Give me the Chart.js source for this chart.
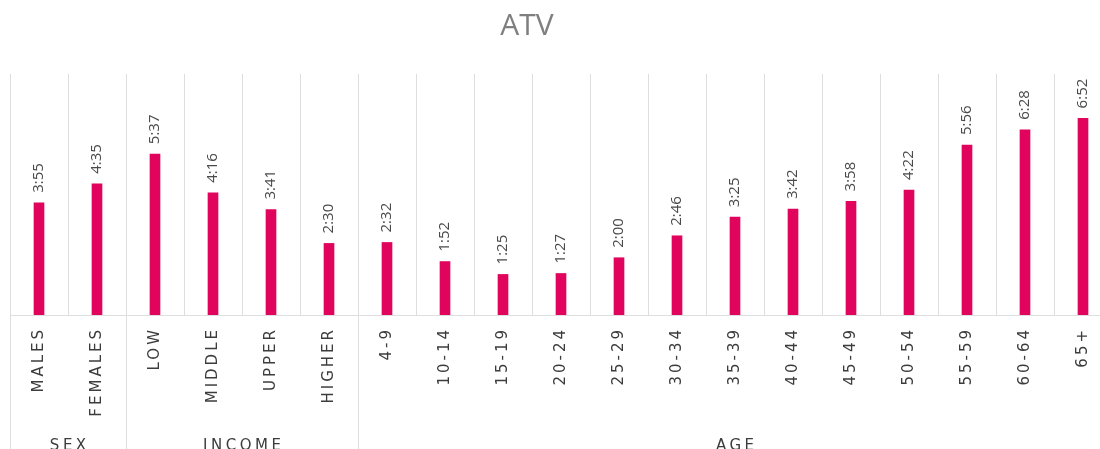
<!DOCTYPE html>
<html>
<head>
<meta charset="utf-8">
<title>ATV</title>
<script src="https://cdn.jsdelivr.net/npm/chart.js@4"></script>
<style>
  html, body { margin: 0; padding: 0; background: #fff; overflow: hidden; }
  #wrap { position: relative; width: 1120px; height: 449px; }
  #title {
    position: absolute; top: 9px; left: 527px; transform: translateX(-50%);
    font: 30px/30px "Open Sans", sans-serif; color: #7f7f7f;
  }
</style>
</head>
<body>
<div id="wrap">
  <div id="title">ATV</div>
  <canvas id="chart"></canvas>
</div>
<script>
// average time viewed per group, in seconds
const categories = ['MALES', 'FEMALES', 'LOW', 'MIDDLE', 'UPPER', 'HIGHER',
  '4-9', '10-14', '15-19', '20-24', '25-29', '30-34', '35-39', '40-44',
  '45-49', '50-54', '55-59', '60-64', '65+'];
const atvSeconds = [235, 275, 337, 256, 221, 150,
  152, 112, 85, 87, 120, 166, 205, 222, 238, 262, 356, 388, 412];
// groups under the axis and how many categories each one covers
const groupNames = ['SEX', 'INCOME', 'AGE'];
const groupSizes = [2, 4, 13];

const gridColor = '#dedede';
const textColor = '#3c3c3c';

// seconds -> m:ss
function fmt(sec) {
  const m = Math.floor(sec / 60);
  const s = sec % 60;
  return m + ':' + (s < 10 ? '0' + s : s);
}

// tick labels are drawn with wide letter spacing, value labels without
const spacing = {
  id: 'spacing',
  beforeDraw(chart) {
    chart.ctx.letterSpacing = '3px';
  }
};

// value printed vertically above each bar
const valueLabels = {
  id: 'valueLabels',
  afterDatasetsDraw(chart) {
    const ctx = chart.ctx;
    const meta = chart.getDatasetMeta(0);
    ctx.save();
    ctx.letterSpacing = '0px';
    ctx.font = '15px "Open Sans", sans-serif';
    ctx.fillStyle = '#4a4a4a';
    ctx.textAlign = 'left';
    ctx.textBaseline = 'middle';
    meta.data.forEach((bar, i) => {
      ctx.save();
      ctx.translate(bar.x, bar.y - 10);
      ctx.rotate(-Math.PI / 2);
      ctx.fillText(fmt(atvSeconds[i]), 0, 0);
      ctx.restore();
    });
    ctx.restore();
  }
};

// group separators running down to the bottom, and group names
const groups = {
  id: 'groups',
  afterDraw(chart) {
    const ctx = chart.ctx;
    const x = chart.scales.x;
    const step = (x.right - x.left) / categories.length;
    ctx.save();
    ctx.strokeStyle = gridColor;
    ctx.lineWidth = 1;
    ctx.font = '15px "DejaVu Sans", sans-serif';
    ctx.letterSpacing = '3.5px';
    ctx.fillStyle = textColor;
    ctx.textAlign = 'center';
    ctx.textBaseline = 'alphabetic';
    let start = 0;
    groupNames.forEach((name, g) => {
      const left = x.getPixelForValue(start) - step / 2;
      const right = x.getPixelForValue(start + groupSizes[g] - 1) + step / 2;
      ctx.beginPath();
      ctx.moveTo(Math.round(left) + 0.5, chart.chartArea.top);
      ctx.lineTo(Math.round(left) + 0.5, chart.height);
      ctx.stroke();
      ctx.fillText(name, (left + right) / 2 + 1.75, chart.height + 1);
      start += groupSizes[g];
    });
    ctx.restore();
  }
};

new Chart(document.getElementById('chart'), {
  type: 'bar',
  data: {
    labels: categories,
    datasets: [{
      label: 'ATV',
      data: atvSeconds,
      backgroundColor: '#e0045c',
      barThickness: 10
    }]
  },
  options: {
    responsive: true,
    maintainAspectRatio: false,
    animation: false,
    layout: { padding: { left: 10, right: 8, top: 74, bottom: 0 } },
    plugins: {
      legend: { display: false },
      tooltip: { enabled: false }
    },
    scales: {
      x: {
        grid: { color: gridColor, drawTicks: false, offset: true },
        border: { display: true, color: gridColor },
        ticks: {
          autoSkip: false,
          minRotation: 90,
          maxRotation: 90,
          padding: 12,
          color: textColor,
          font: { family: '"DejaVu Sans", sans-serif', size: 15 }
        },
        afterFit(scale) { scale.height = 134; }
      },
      y: {
        display: false,
        min: 0,
        max: 505
      }
    }
  },
  plugins: [spacing, valueLabels, groups]
});
</script>
</body>
</html>
